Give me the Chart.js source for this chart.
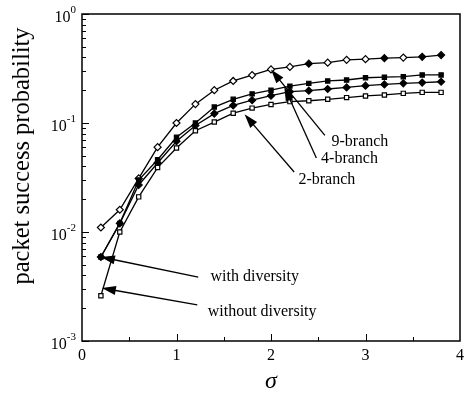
<!DOCTYPE html>
<html>
<head>
<meta charset="utf-8">
<script src="https://cdn.jsdelivr.net/npm/chart.js@4.4.1/dist/chart.umd.min.js"></script>
<style>
  html, body { margin: 0; padding: 0; background: #fff; }
  #wrap { width: 468px; height: 395px; }
</style>
</head>
<body>
<div id="wrap"><canvas id="chart" width="468" height="395"></canvas></div>
<script>
// sigma values (x axis)
const sigma = [0.2, 0.4, 0.6, 0.8, 1.0, 1.2, 1.4, 1.6, 1.8, 2.0, 2.2, 2.4, 2.6, 2.8, 3.0, 3.2, 3.4, 3.6, 3.8];

// packet success probability
const branch9 = [0.011, 0.016, 0.031, 0.060, 0.100, 0.149, 0.200, 0.243, 0.275, 0.310, 0.327, 0.350, 0.358, 0.380, 0.385, 0.393, 0.398, 0.405, 0.420];
const branch4 = [0.0059, 0.012, 0.030, 0.046, 0.074, 0.100, 0.140, 0.165, 0.185, 0.200, 0.218, 0.231, 0.243, 0.248, 0.260, 0.263, 0.266, 0.276, 0.276];
const branch2 = [0.0059, 0.012, 0.027, 0.043, 0.068, 0.095, 0.122, 0.145, 0.162, 0.178, 0.194, 0.198, 0.205, 0.212, 0.220, 0.226, 0.231, 0.235, 0.239];
const noDiversity = [0.0026, 0.010, 0.021, 0.039, 0.059, 0.085, 0.102, 0.123, 0.137, 0.148, 0.157, 0.160, 0.165, 0.171, 0.177, 0.181, 0.187, 0.191, 0.191];

// axis ticks
const xTicks = [0, 1, 2, 3, 4];
const yExponents = [0, -1, -2, -3];

// annotations: arrows in data coords (tail -> head), text anchored at left/middle
const notes = [
  { text: '9-branch', tx: 2.64, ty: 0.067, from: [2.57, 0.077], to: [2.0, 0.31] },
  { text: '4-branch', tx: 2.53, ty: 0.0468, from: [2.48, 0.0477], to: [2.14, 0.215] },
  { text: '2-branch', tx: 2.29, ty: 0.030, from: [2.245, 0.0355], to: [1.72, 0.12] },
  { text: 'with diversity', tx: 1.36, ty: 0.00386, from: [1.23, 0.00386], to: [0.2, 0.0059] },
  { text: 'without diversity', tx: 1.33, ty: 0.00185, from: [1.22, 0.00214], to: [0.21, 0.00306] }
];

const serif = '"Liberation Serif", "DejaVu Serif", serif';
const filled9 = [2.4, 3.2, 3.6, 3.8];

function pts(ys) {
  return sigma.map((s, i) => ({ x: s, y: ys[i] }));
}

function arrow(ctx, x1, y1, x2, y2) {
  const a = Math.atan2(y2 - y1, x2 - x1);
  const len = 14, half = 4.5;
  ctx.beginPath();
  ctx.moveTo(x1, y1);
  ctx.lineTo(x2 - Math.cos(a) * len * 0.8, y2 - Math.sin(a) * len * 0.8);
  ctx.stroke();
  ctx.beginPath();
  ctx.moveTo(x2, y2);
  ctx.lineTo(x2 - Math.cos(a) * len - Math.sin(a) * half, y2 - Math.sin(a) * len + Math.cos(a) * half);
  ctx.lineTo(x2 - Math.cos(a) * len + Math.sin(a) * half, y2 - Math.sin(a) * len - Math.cos(a) * half);
  ctx.closePath();
  ctx.fill();
}

const axesPlugin = {
  id: 'axesPlugin',
  afterDatasetsDraw(chart) {
    const { ctx, chartArea: a, scales: { x, y } } = chart;
    ctx.save();
    ctx.strokeStyle = '#000';
    ctx.fillStyle = '#000';

    // frame
    ctx.lineWidth = 1.5;
    ctx.strokeRect(a.left, a.top, a.right - a.left, a.bottom - a.top);

    // y ticks (inward), major + minor per decade
    ctx.lineWidth = 1;
    yExponents.forEach(e => {
      const v = Math.pow(10, e);
      const py = Math.round(y.getPixelForValue(v)) + 0.5;
      ctx.beginPath();
      ctx.moveTo(a.left, py); ctx.lineTo(a.left + 7, py); ctx.stroke();
      if (e > -3) {
        for (let m = 2; m <= 9; m++) {
          const my = Math.round(y.getPixelForValue(m * v / 10)) + 0.5;
          ctx.beginPath();
          ctx.moveTo(a.left, my); ctx.lineTo(a.left + 4, my); ctx.stroke();
        }
      }
    });

    // x ticks (inward)
    for (let t = 0.5; t < 4; t += 0.5) {
      const px = Math.round(x.getPixelForValue(t)) + 0.5;
      const major = Number.isInteger(t);
      ctx.beginPath();
      ctx.moveTo(px, a.bottom); ctx.lineTo(px, a.bottom - (major ? 7 : 4)); ctx.stroke();
    }

    // x tick labels
    ctx.font = '16px ' + serif;
    ctx.textAlign = 'center';
    ctx.textBaseline = 'top';
    xTicks.forEach(t => {
      ctx.fillText(String(t), x.getPixelForValue(t), a.bottom + 7);
    });

    // y tick labels: 10 with superscript exponent
    yExponents.forEach(e => {
      const py = y.getPixelForValue(Math.pow(10, e));
      const exp = e === 0 ? '0' : '-' + Math.abs(e);
      ctx.font = '11px ' + serif;
      const ew = ctx.measureText(exp).width;
      ctx.textAlign = 'left';
      ctx.textBaseline = 'alphabetic';
      ctx.fillText(exp, a.left - 6 - ew, py - 1);
      ctx.font = '16px ' + serif;
      ctx.textAlign = 'right';
      ctx.fillText('10', a.left - 6 - ew, py + 8);
    });

    // axis titles
    ctx.font = 'italic 24px ' + serif;
    ctx.textAlign = 'center';
    ctx.textBaseline = 'alphabetic';
    ctx.fillText('σ', (a.left + a.right) / 2, 388);

    ctx.save();
    ctx.translate(23, 156);
    ctx.rotate(-Math.PI / 2);
    ctx.font = '24.5px ' + serif;
    ctx.textBaseline = 'middle';
    ctx.fillText('packet success probability', 0, 0);
    ctx.restore();

    // annotations
    ctx.lineWidth = 1.3;
    ctx.font = '16px ' + serif;
    ctx.textAlign = 'left';
    ctx.textBaseline = 'middle';
    notes.forEach(n => {
      arrow(ctx,
        x.getPixelForValue(n.from[0]), y.getPixelForValue(n.from[1]),
        x.getPixelForValue(n.to[0]), y.getPixelForValue(n.to[1]));
      ctx.fillText(n.text, x.getPixelForValue(n.tx), y.getPixelForValue(n.ty));
    });

    ctx.restore();
  }
};

function series(label, ys, style, fill) {
  return {
    label,
    data: pts(ys),
    borderColor: '#000',
    borderWidth: 1.3,
    pointStyle: style,
    pointRadius: style === 'rectRot' ? 3.5 : 3,
    pointBorderWidth: 1.2,
    pointBorderColor: '#000',
    pointBackgroundColor: fill,
    tension: 0,
    fill: false
  };
}

new Chart(document.getElementById('chart'), {
  type: 'line',
  data: {
    datasets: [
      series('without diversity', noDiversity, 'rect', '#fff'),
      series('2-branch', branch2, 'rectRot', '#000'),
      series('4-branch', branch4, 'rect', '#000'),
      series('9-branch', branch9, 'rectRot', sigma.map(s => filled9.includes(s) ? '#000' : '#fff'))
    ]
  },
  options: {
    responsive: false,
    animation: false,
    layout: { padding: { left: 82, right: 8, top: 14, bottom: 54 } },
    plugins: { legend: { display: false }, tooltip: { enabled: false } },
    scales: {
      x: { type: 'linear', min: 0, max: 4, display: false },
      y: { type: 'logarithmic', min: 0.001, max: 1, display: false }
    }
  },
  plugins: [axesPlugin]
});
</script>
</body>
</html>
